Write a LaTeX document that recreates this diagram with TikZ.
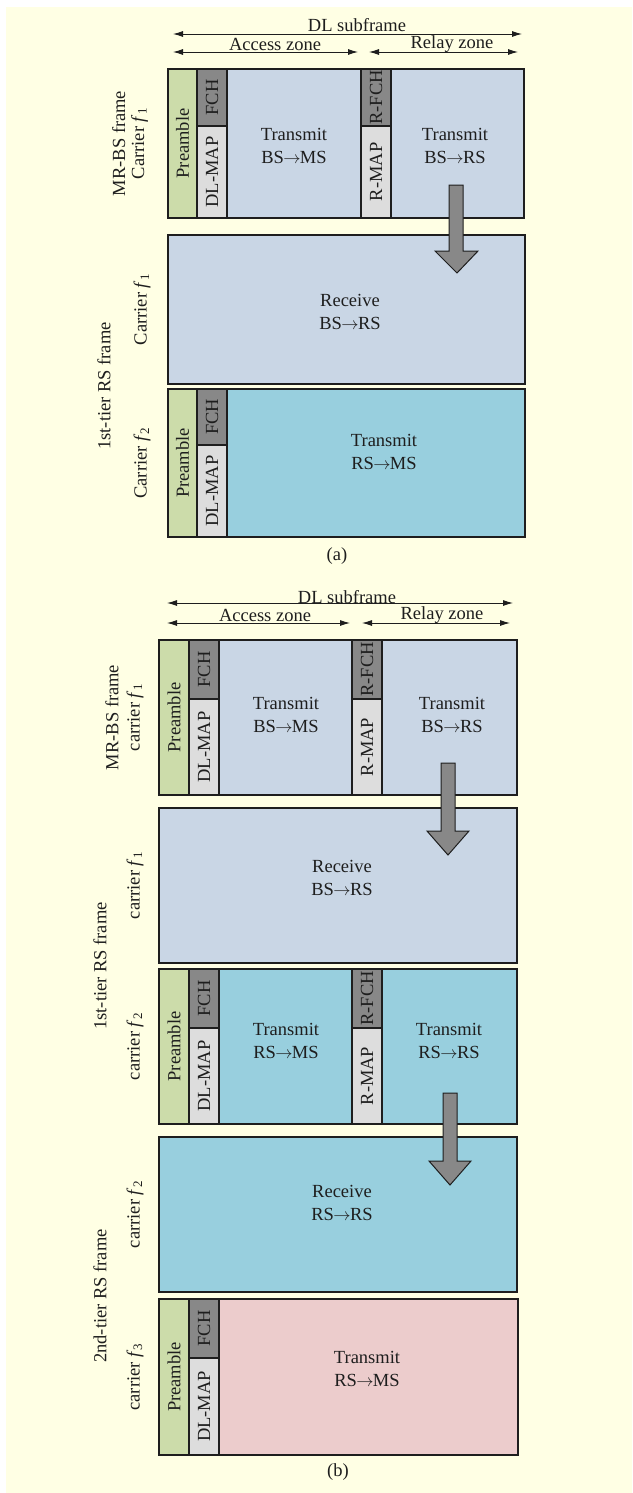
\documentclass[tikz,border=0pt]{standalone}
\usepackage{fontspec}
\setmainfont{Liberation Serif}
\usetikzlibrary{arrows.meta}
\definecolor{bg}{RGB}{255,255,228}
\definecolor{frblue}{RGB}{201,214,229}
\definecolor{frcyan}{RGB}{152,207,222}
\definecolor{frpink}{RGB}{236,204,204}
\definecolor{pregreen}{RGB}{204,220,170}
\definecolor{fchgray}{RGB}{136,136,136}
\definecolor{mapgray}{RGB}{221,221,221}
\definecolor{ink}{RGB}{30,30,30}
\newcommand{\fq}[1]{\textit{f}\textsubscript{#1}}
\newcommand{\ra}{\kern-0.6pt$\rightarrow$\kern-0.6pt}
\begin{document}
\begin{tikzpicture}[x=1pt,y=-1pt,
  frm/.style={draw=ink, line width=1.3pt},
  lbl/.style={font=\fontsize{18.5}{23}\selectfont, text=ink, inner sep=0pt, align=center},
  vlbl/.style={lbl, rotate=90},
  dim/.style={draw=ink, line width=0.9pt, {Latex[length=10pt,width=6pt]}-{Latex[length=10pt,width=6pt]}},
  bigarrow/.style={draw=ink, line width=1pt, fill=fchgray}]
\useasboundingbox (0,0) rectangle (632,1493);
\fill[white] (0,0) rectangle (632,1493);
\fill[bg] (6,7) rectangle (632,1493);

% ================= (a) =================
% dimension arrows
\coordinate (a-dl-l) at (173,34); \coordinate (a-dl-r) at (522,34);
\coordinate (a-ac-l) at (173,52); \coordinate (a-ac-r) at (358,52);
\coordinate (a-rl-l) at (369,52); \coordinate (a-rl-r) at (518,52);
\draw[dim] (a-dl-l) -- (a-dl-r);
\draw[dim] (a-ac-l) -- (a-ac-r);
\draw[dim] (a-rl-l) -- (a-rl-r);
\node[lbl] (a-dl) at (357,25) {DL subframe};
\node[lbl] (a-ac) at (275,44) {Access zone};
\node[lbl] (a-rl) at (452,44) {Relay zone};

% frame a1
\draw[frm, fill=frblue] (168,69) rectangle (524,218);
\draw[frm, fill=pregreen] (168,69) rectangle (197,218);
\draw[frm, fill=fchgray] (197,69) rectangle (227,126);
\draw[frm, fill=mapgray] (197,126) rectangle (227,218);
\draw[frm, fill=fchgray] (361,69) rectangle (391,126);
\draw[frm, fill=mapgray] (361,126) rectangle (391,218);
\node[vlbl] (a1-pre) at (182.5,143.5) {Preamble};
\node[vlbl] (a1-fch) at (212,97.5) {FCH};
\node[vlbl] (a1-map) at (212,172) {DL-MAP};
\node[vlbl] (a1-rfch) at (376,97.5) {R-FCH};
\node[vlbl] (a1-rmap) at (376,172) {R-MAP};
\node[lbl] (a1-t1) at (294,145.5) {Transmit\\BS\ra MS};
\node[lbl] (a1-t2) at (455,145.5) {Transmit\\BS\ra RS};

% frame a2
\draw[frm, fill=frblue] (168,235) rectangle (525,384);
\node[lbl] (a2-t) at (350,311.5) {Receive\\BS\ra RS};

% frame a3
\draw[frm, fill=frcyan] (168,389) rectangle (525,537);
\draw[frm, fill=pregreen] (168,389) rectangle (197,537);
\draw[frm, fill=fchgray] (197,389) rectangle (227,445);
\draw[frm, fill=mapgray] (197,445) rectangle (227,537);
\node[vlbl] (a3-pre) at (182.5,463) {Preamble};
\node[vlbl] (a3-fch) at (212,417) {FCH};
\node[vlbl] (a3-map) at (212,491) {DL-MAP};
\node[lbl] (a3-t) at (384,451.5) {Transmit\\RS\ra MS};

% big arrow a
\draw[bigarrow] (449,185) -- (463,185) -- (463,251) -- (478,251) -- (457,273) -- (435,251) -- (449,251) -- cycle;

% left labels a
\node[vlbl, font=\fontsize{18.5}{19}\selectfont] (a-mr) at (130,143.5) {MR-BS frame\\Carrier \fq{1}};
\node[vlbl] (a-t1) at (104,386) {1st-tier RS frame};
\node[vlbl] (a-c2) at (142,309.5) {Carrier \fq{1}};
\node[vlbl] (a-c3) at (142,463) {Carrier \fq{2}};
\node[lbl] (a-cap) at (337,556) {(a)};

% ================= (b) =================
\coordinate (b-dl-l) at (167,603); \coordinate (b-dl-r) at (513,603);
\coordinate (b-ac-l) at (167,623); \coordinate (b-ac-r) at (350,623);
\coordinate (b-rl-l) at (362,623); \coordinate (b-rl-r) at (510,623);
\draw[dim] (b-dl-l) -- (b-dl-r);
\draw[dim] (b-ac-l) -- (b-ac-r);
\draw[dim] (b-rl-l) -- (b-rl-r);
\node[lbl] (b-dl) at (347,597) {DL subframe};
\node[lbl] (b-ac) at (265,615) {Access zone};
\node[lbl] (b-rl) at (442,615) {Relay zone};

% frame b1
\draw[frm, fill=frblue] (159,640) rectangle (517,795);
\draw[frm, fill=pregreen] (159,640) rectangle (189,795);
\draw[frm, fill=fchgray] (189,640) rectangle (219,699);
\draw[frm, fill=mapgray] (189,699) rectangle (219,795);
\draw[frm, fill=fchgray] (352,640) rectangle (382,699);
\draw[frm, fill=mapgray] (352,699) rectangle (382,795);
\node[vlbl] (b1-pre) at (174,717.5) {Preamble};
\node[vlbl] (b1-fch) at (204,669.5) {FCH};
\node[vlbl] (b1-map) at (204,747) {DL-MAP};
\node[vlbl] (b1-rfch) at (367,669.5) {R-FCH};
\node[vlbl] (b1-rmap) at (367,747) {R-MAP};
\node[lbl] (b1-t1) at (286,714.5) {Transmit\\BS\ra MS};
\node[lbl] (b1-t2) at (452,714.5) {Transmit\\BS\ra RS};

% frame b2
\draw[frm, fill=frblue] (159,808) rectangle (517,963);
\node[lbl] (b2-t) at (342,877.5) {Receive\\BS\ra RS};

% frame b3
\draw[frm, fill=frcyan] (159,969) rectangle (517,1124);
\draw[frm, fill=pregreen] (159,969) rectangle (189,1124);
\draw[frm, fill=fchgray] (189,969) rectangle (219,1028);
\draw[frm, fill=mapgray] (189,1028) rectangle (219,1124);
\draw[frm, fill=fchgray] (352,969) rectangle (382,1028);
\draw[frm, fill=mapgray] (352,1028) rectangle (382,1124);
\node[vlbl] (b3-pre) at (174,1046.5) {Preamble};
\node[vlbl] (b3-fch) at (204,998.5) {FCH};
\node[vlbl] (b3-map) at (204,1076) {DL-MAP};
\node[vlbl] (b3-rfch) at (367,998.5) {R-FCH};
\node[vlbl] (b3-rmap) at (367,1076) {R-MAP};
\node[lbl] (b3-t1) at (286,1040.5) {Transmit\\RS\ra MS};
\node[lbl] (b3-t2) at (449,1040.5) {Transmit\\RS\ra RS};

% frame b4
\draw[frm, fill=frcyan] (159,1137) rectangle (517,1292);
\node[lbl] (b4-t) at (342,1202.5) {Receive\\RS\ra RS};

% frame b5
\draw[frm, fill=frpink] (159,1299) rectangle (518,1455);
\draw[frm, fill=pregreen] (159,1299) rectangle (189,1455);
\draw[frm, fill=fchgray] (189,1299) rectangle (219,1358);
\draw[frm, fill=mapgray] (189,1358) rectangle (219,1455);
\node[vlbl] (b5-pre) at (174,1377) {Preamble};
\node[vlbl] (b5-fch) at (204,1328.5) {FCH};
\node[vlbl] (b5-map) at (204,1406.5) {DL-MAP};
\node[lbl] (b5-t) at (367,1369) {Transmit\\RS\ra MS};

% big arrows b
\draw[bigarrow] (441,763) -- (455,763) -- (455,831) -- (469,831) -- (448,855) -- (427,831) -- (441,831) -- cycle;
\draw[bigarrow] (443,1093) -- (457,1093) -- (457,1161) -- (471,1161) -- (450,1185) -- (429,1161) -- (443,1161) -- cycle;

% left labels b
\node[vlbl] (b-mr) at (112,717.5) {MR-BS frame};
\node[vlbl] (b-c1) at (135,717.5) {carrier \fq{1}};
\node[vlbl] (b-c2) at (135,885.5) {carrier \fq{1}};
\node[vlbl] (b-t1) at (100,966) {1st-tier RS frame};
\node[vlbl] (b-c3) at (135,1046.5) {carrier \fq{2}};
\node[vlbl] (b-c4) at (135,1214.5) {carrier \fq{2}};
\node[vlbl] (b-t2) at (100,1296) {2nd-tier RS frame};
\node[vlbl] (b-c5) at (135,1377) {carrier \fq{3}};
\node[lbl] (b-cap) at (338,1472) {(b)};
\end{tikzpicture}
\end{document}
